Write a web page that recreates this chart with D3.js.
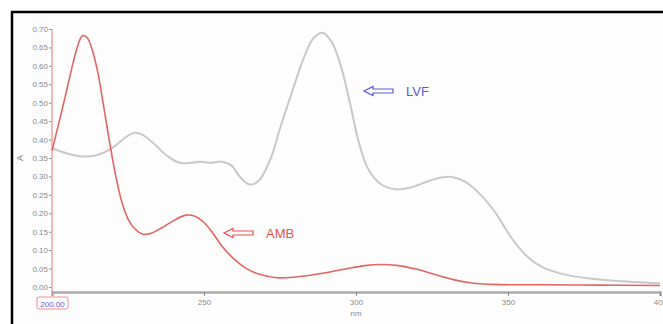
<!DOCTYPE html>
<html>
<head>
<meta charset="utf-8">
<script src="https://cdn.jsdelivr.net/npm/d3@7"></script>
<style>
	body { margin: 0; background: #fff; }
	svg { display: block; }
</style>
</head>
<body>
<div id="chart"></div>
<script>
// wavelength (nm) / absorbance pairs
const AMB_NM = [200, 203, 205, 207, 208.5, 210, 211.5, 213, 215, 217, 219, 221, 223, 225, 227, 230, 233, 236, 240, 244, 247, 250, 253, 256, 260, 264, 268, 274, 280, 288, 296, 303, 308, 314, 320, 326, 332, 338, 345, 360, 380, 400];
const AMB_A = [0.37, 0.47, 0.54, 0.61, 0.655, 0.682, 0.677, 0.65, 0.585, 0.49, 0.39, 0.3, 0.23, 0.185, 0.16, 0.143, 0.147, 0.16, 0.18, 0.195, 0.192, 0.175, 0.145, 0.11, 0.075, 0.05, 0.035, 0.025, 0.027, 0.036, 0.048, 0.058, 0.061, 0.058, 0.048, 0.034, 0.02, 0.011, 0.007, 0.006, 0.005, 0.004];

const LVF_NM = [200, 205, 210, 215, 220, 224, 227, 230, 234, 238, 242, 246, 249, 252, 256, 259, 262, 265, 268, 272, 275, 279, 283, 286, 289, 292, 295, 298, 301, 304, 308, 313, 318, 323, 328, 332, 336, 341, 346, 351, 356, 361, 367, 375, 385, 400];
const LVF_A = [0.377, 0.362, 0.354, 0.358, 0.378, 0.405, 0.418, 0.412, 0.385, 0.355, 0.337, 0.337, 0.34, 0.337, 0.34, 0.33, 0.297, 0.278, 0.288, 0.35, 0.43, 0.53, 0.625, 0.675, 0.69, 0.665, 0.6, 0.5, 0.39, 0.32, 0.28, 0.265, 0.27, 0.285, 0.297, 0.298, 0.285, 0.25, 0.2, 0.135, 0.085, 0.055, 0.037, 0.025, 0.017, 0.01];

const X_TICKS = [250, 300, 350, 400];
const Y_TICKS = [0, 0.05, 0.1, 0.15, 0.2, 0.25, 0.3, 0.35, 0.4, 0.45, 0.5, 0.55, 0.6, 0.65, 0.7];

const COLORS = {
	amb: '#e46464',
	lvf: '#c8c8c8',
	label: '#5a5ad8',
	tick: '#8a8a8a'
};

const W = 663, H = 324;

const x = d3.scaleLinear().domain([200, 400]).range([52, 660]);
const y = d3.scaleLinear().domain([0, 0.7]).range([287, 29]);

const svg = d3.select('#chart').append('svg')
	.attr('width', W)
	.attr('height', H)
	.attr('font-family', 'Liberation Sans, Arial, sans-serif');

// frame (only top and left edges are visible)
svg.append('rect')
	.attr('x', 12).attr('y', 12)
	.attr('width', W).attr('height', H)
	.attr('fill', '#fdfdfd')
	.attr('stroke', '#000')
	.attr('stroke-width', 2.5);

// y axis
const gY = svg.append('g')
	.attr('transform', `translate(${x(200)},0)`)
	.call(d3.axisLeft(y).tickValues(Y_TICKS).tickSize(3).tickFormat(d3.format('.2f')));
gY.select('.domain').remove();
gY.selectAll('.tick line').attr('stroke', COLORS.tick);
gY.selectAll('.tick text')
	.attr('fill', COLORS.tick)
	.attr('font-size', 8)
	.attr('x', -4);

svg.append('line')
	.attr('x1', x(200)).attr('x2', x(200))
	.attr('y1', y(0.7)).attr('y2', 292)
	.attr('stroke', '#f3a0a0')
	.attr('stroke-width', 1.5);

// x axis (last label is clipped by the window edge, like the source)
const gX = svg.append('g')
	.attr('transform', 'translate(0,292)')
	.call(d3.axisBottom(x).tickValues(X_TICKS).tickSize(4));
gX.select('.domain')
	.attr('stroke', '#aaaaaa')
	.attr('stroke-width', 2.5);
gX.selectAll('.tick line').attr('stroke', COLORS.tick);
gX.selectAll('.tick text')
	.attr('fill', COLORS.tick)
	.attr('font-size', 8)
	.attr('y', 7);

svg.append('text')
	.attr('x', x(300)).attr('y', 316)
	.attr('text-anchor', 'middle')
	.attr('font-size', 8)
	.attr('fill', COLORS.tick)
	.text('nm');

svg.append('text')
	.attr('transform', `translate(23,${y(0.35)}) rotate(-90)`)
	.attr('text-anchor', 'middle')
	.attr('font-size', 9)
	.attr('fill', '#777')
	.text('A');

// start wavelength box
svg.append('rect')
	.attr('x', 37).attr('y', 297)
	.attr('width', 31).attr('height', 12)
	.attr('rx', 2)
	.attr('fill', '#fff')
	.attr('stroke', '#f08c8c')
	.attr('stroke-width', 1);
svg.append('text')
	.attr('x', 52.5).attr('y', 306.5)
	.attr('text-anchor', 'middle')
	.attr('font-size', 8)
	.attr('fill', COLORS.label)
	.text('200.00');

// spectra
const line = d3.line()
	.x(d => x(d[0]))
	.y(d => y(d[1]))
	.curve(d3.curveCatmullRom.alpha(0.5));

const series = [
	{ name: 'LVF', nm: LVF_NM, a: LVF_A, color: COLORS.lvf, w: 2 },
	{ name: 'AMB', nm: AMB_NM, a: AMB_A, color: COLORS.amb, w: 1.6 }
];

svg.selectAll('path.spectrum')
	.data(series)
	.enter()
	.append('path')
	.attr('class', 'spectrum')
	.attr('fill', 'none')
	.attr('stroke', d => d.color)
	.attr('stroke-width', d => d.w)
	.attr('d', d => line(d3.zip(d.nm, d.a)));

// annotations: hollow arrow + name
function annotate(x0, yc, color, label) {
	const g = svg.append('g').attr('transform', `translate(${x0},${yc})`);
	g.append('path')
		.attr('d', 'M0,0 L9,-4.5 L9,-2 L29,-2 L29,2 L9,2 L9,4.5 Z')
		.attr('fill', 'none')
		.attr('stroke', color)
		.attr('stroke-width', 1.2);
	g.append('text')
		.attr('x', 42).attr('y', 5)
		.attr('font-size', 13)
		.attr('fill', color)
		.text(label);
}
annotate(364, 91, COLORS.label, 'LVF');
annotate(224, 233, '#e85050', 'AMB');
</script>
</body>
</html>
